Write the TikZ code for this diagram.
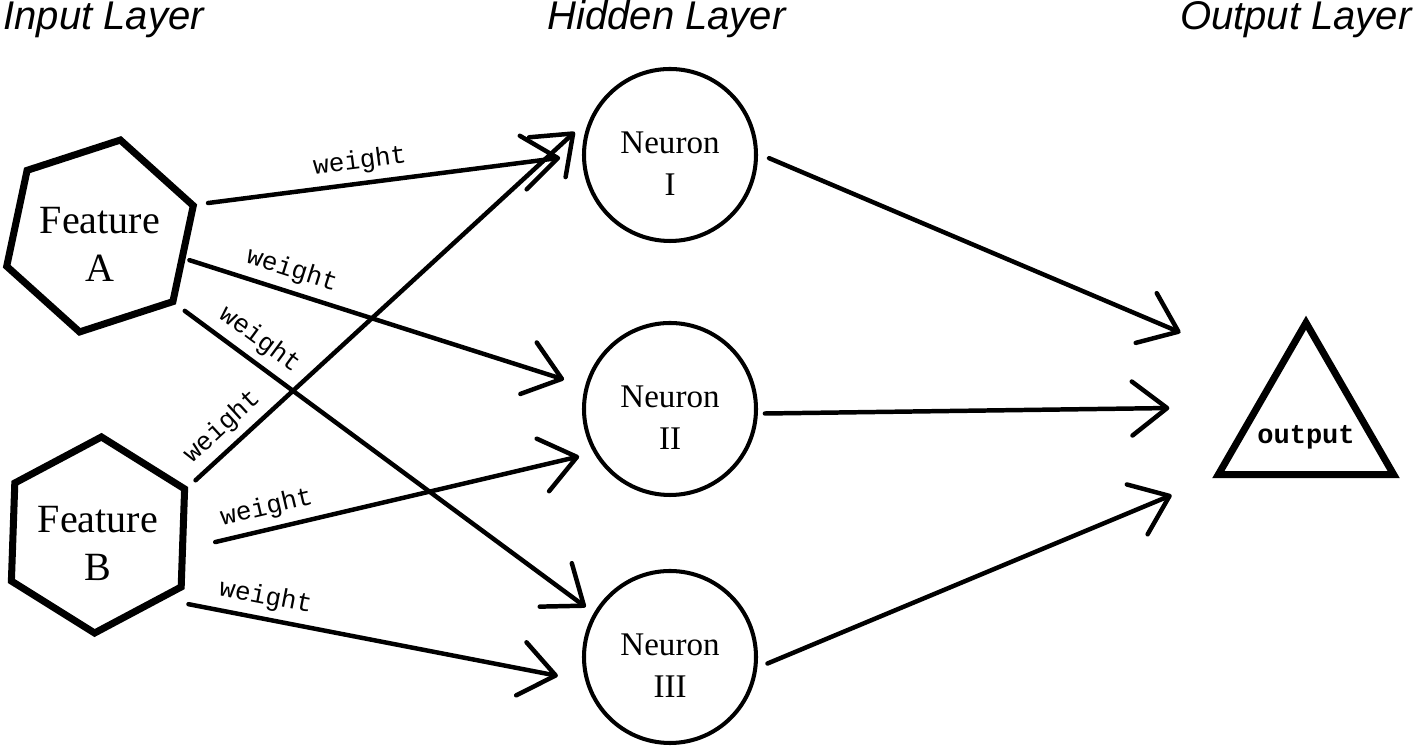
\documentclass[tikz,border=0pt]{standalone}
\usepackage{fontspec}
\setmainfont{Liberation Serif}
\setsansfont{Liberation Sans}
\setmonofont{Liberation Mono}
\usetikzlibrary{shapes.geometric,arrows.meta}

\begin{document}
\begin{tikzpicture}[
  >={Straight Barb[length=0.7cm,width=1.08cm,round]},
  line cap=round,
  feature/.style={regular polygon,regular polygon sides=6,draw,line width=4pt,
    minimum size=3.9cm,inner sep=0pt,align=center,
    font=\fontsize{22.8}{27.3}\selectfont},
  neuron/.style={circle,draw,line width=2.3pt,minimum size=3.44cm,align=center,
    font=\fontsize{18.8}{23.9}\selectfont},
  result/.style={regular polygon,regular polygon sides=3,draw,line width=4pt,
    minimum size=4.05cm,inner sep=0pt},
  layer/.style={font=\sffamily\itshape\fontsize{22.8}{27}\selectfont,inner sep=0pt},
  wire/.style={line width=2.55pt},
  wlabel/.style={sloped,above=0.08cm,inner sep=0.06cm,
    font=\ttfamily\fontsize{14.8}{17}\selectfont}
]
  \useasboundingbox (0,0) rectangle (28.34,15.02);
  \path
  node[layer,anchor=base west] (t_in)  at (0.06,14.42)  {Input Layer}
  node[layer,anchor=base west] (t_hid) at (10.94,14.42) {Hidden Layer}
  node[layer,anchor=base east] (t_out) at (28.24,14.42) {Output Layer}
  node[feature,shape border rotate=18] (A) at (2.00,10.30) {\rule{0pt}{0.86cm}Feature\\A}
  node[feature,shape border rotate=28] (B) at (1.96,4.32)  {\rule{0pt}{0.86cm}Feature\\B}
  node[neuron] (I)   at (13.40,11.92) {\rule{0pt}{0.8cm}Neuron\\I}
  node[neuron] (II)  at (13.40,6.84)  {\rule{0pt}{0.8cm}Neuron\\II}
  node[neuron] (III) at (13.40,1.88)  {\rule{0pt}{0.8cm}Neuron\\III}
  node[result,label={[font=\ttfamily\bfseries\fontsize{15.4}{18}\selectfont,
    yshift=-0.26cm]center:output}] (out) at (26.12,6.54) {}
  ;
  \path[->,wire]
  (A.18)  edge[shorten <=0.22cm,shorten >=0.44cm] node[wlabel,pos=.43] {weight} (I.west)
  (A.-15) edge[shorten <=0.08cm,shorten >=0.44cm] node[wlabel,pos=.25] {weight} (II.165)
  (A.-42) edge[shorten <=0.22cm,shorten >=0.2cm]  node[wlabel,pos=.17] {weight} (III.150)
  (B.28)  edge[shorten <=0.2cm,shorten >=0.42cm]  node[wlabel,pos=.12] {weight} (I.155)
  (B.-9)  edge[shorten <=0.6cm,shorten >=0.3cm]   node[wlabel,pos=.21] {weight} (II.210)
  (B.-44) edge[shorten <=0.48cm,shorten >=0.56cm] node[wlabel,pos=.23] {weight} (III.196)
  (I.1)   edge[shorten <=0.24cm,shorten >=2.02cm] (out.122)
  (II.-3) edge[shorten <=0.14cm,shorten >=1.68cm] (out.162)
  (III.-7) edge[shorten <=0.22cm,shorten >=0.88cm] (out.210)
  ;
\end{tikzpicture}
\end{document}
